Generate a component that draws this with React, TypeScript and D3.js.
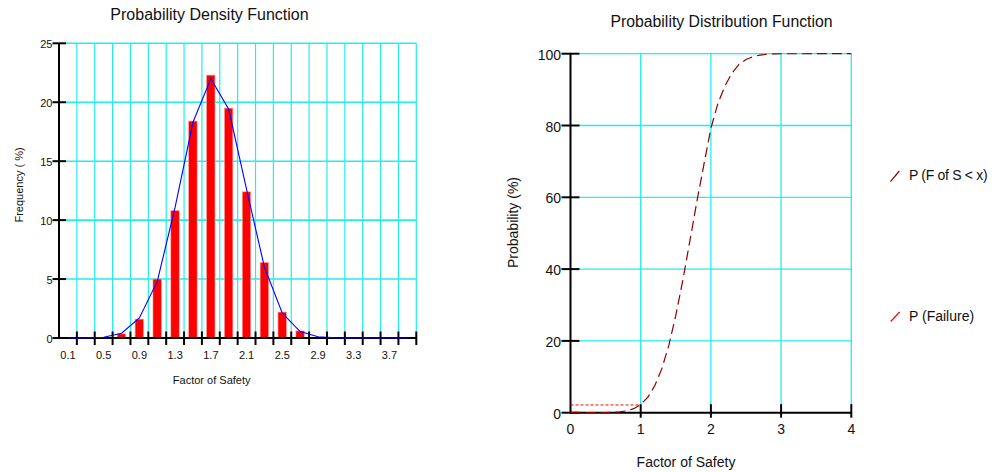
import React from "react";
import * as d3 from "d3";

// ---------- Data ----------
// Left: Probability Density Function (bins of width 0.2, centers 0.1 .. 3.9)
const binCenters = [0.1, 0.3, 0.5, 0.7, 0.9, 1.1, 1.3, 1.5, 1.7, 1.9, 2.1, 2.3, 2.5, 2.7, 2.9, 3.1, 3.3, 3.5, 3.7, 3.9];
const barFreq = [0, 0, 0, 0.35, 1.6, 5.0, 10.8, 18.4, 22.3, 19.5, 12.4, 6.4, 2.2, 0.6, 0, 0, 0, 0, 0, 0];
const fitFreq = [0, 0, 0.07, 0.4, 1.7, 4.8, 11.1, 18.3, 22.0, 19.4, 12.6, 6.0, 2.1, 0.55, 0.1, 0.01, 0, 0, 0, 0];
const pdfXTickLabels = ["0.1", "0.5", "0.9", "1.3", "1.7", "2.1", "2.5", "2.9", "3.3", "3.7"];
const pdfYTicks = [0, 5, 10, 15, 20, 25];

// Right: Probability Distribution Function
const cdfX = [0, 0.5, 0.6, 0.7, 0.8, 0.9, 1.0, 1.1, 1.2, 1.3, 1.4, 1.5, 1.6, 1.7, 1.8, 1.9, 2.0, 2.1, 2.2, 2.3, 2.4, 2.5, 2.6, 2.7, 2.8, 2.9, 3.0, 3.5, 4.0];
const cdfP = [0, 0.04, 0.09, 0.23, 0.53, 1.13, 2.28, 4.27, 7.49, 12.2, 18.7, 27.1, 36.9, 47.8, 58.8, 69.1, 79.2, 86.2, 91.0, 94.6, 97.0, 98.4, 99.2, 99.6, 99.85, 99.95, 99.98, 100, 100];
const pFailure = 2.15;
const failureFS = 1;
const cdfXTicks = [0, 1, 2, 3, 4];
const cdfYTicks = [0, 20, 40, 60, 80, 100];
const legendLabels = ["P (F of S < x)", "P (Failure)"];

const FONT = "'Liberation Sans', Arial, Helvetica, sans-serif";
const GRID = "#22eeee";

export default function App() {
  // Left scales
  const xL = d3.scaleLinear().domain([0, 4]).range([59, 416.3]);
  const yL = d3.scaleLinear().domain([0, 25]).range([338, 43.3]);
  const binW = xL(0.2) - xL(0);
  const gridXL = d3.range(1, 21).map((i) => i * 0.2);

  const fitLine = d3
    .line<number>()
    .x((_, i) => xL(binCenters[i]))
    .y((d) => yL(d))(fitFreq) as string;

  // Right scales
  const xR = d3.scaleLinear().domain([0, 4]).range([570.5, 851.3]);
  const yR = d3.scaleLinear().domain([0, 100]).range([412.7, 53.7]);
  const cdfLine = d3
    .line<number>()
    .x((_, i) => xR(cdfX[i]))
    .y((d) => yR(d))(cdfP) as string;

  return (
    <svg
      width={994}
      height={472}
      style={{ position: "absolute", left: 0, top: 0, background: "#fff" }}
      fontFamily={FONT}
    >
      {/* ---------- Left chart ---------- */}
      <text x={209.5} y={20} fontSize={16} textAnchor="middle" fill="#111">
        Probability Density Function
      </text>
      {/* grid */}
      {pdfYTicks.filter((t) => t > 0).map((t) => (
        <line key={"lh" + t} x1={xL(0) + 7} x2={xL(4)} y1={yL(t)} y2={yL(t)} stroke={GRID} strokeWidth={1.6} />
      ))}
      {gridXL.map((g, i) => (
        <line key={"lv" + i} x1={xL(g)} x2={xL(g)} y1={yL(25)} y2={yL(0) - 6} stroke={GRID} strokeWidth={1.2} />
      ))}
      {/* bars */}
      {barFreq.map((v, i) =>
        v > 0 ? (
          <rect
            key={"b" + i}
            x={xL(binCenters[i]) - binW * 0.24}
            y={yL(v)}
            width={binW * 0.47}
            height={yL(0) - yL(v)}
            fill="#ff0000"
            stroke="#ff9a9a"
            strokeWidth={0.6}
          />
        ) : null
      )}
      {/* axes */}
      <line x1={xL(0)} x2={xL(0)} y1={yL(25)} y2={yL(0) + 1} stroke="#000" strokeWidth={2} />
      <line x1={xL(0)} x2={xL(4)} y1={yL(0)} y2={yL(0)} stroke="#000" strokeWidth={2} />
      {pdfYTicks.map((t) => (
        <g key={"lyt" + t}>
          <line x1={xL(0) - 6.5} x2={xL(0) + 7} y1={yL(t)} y2={yL(t)} stroke="#000" strokeWidth={2} />
          <text x={52.5} y={yL(t) + 5} fontSize={11} textAnchor="end" fill="#111">
            {t}
          </text>
        </g>
      ))}
      {gridXL.map((g, i) => (
        <line key={"lxt" + i} x1={xL(g)} x2={xL(g)} y1={yL(0) - 6.5} y2={yL(0) + 7} stroke="#000" strokeWidth={2} />
      ))}
      {pdfXTickLabels.map((l) => (
        <text key={"lxl" + l} x={xL(parseFloat(l))} y={359} fontSize={11} textAnchor="middle" fill="#111">
          {l}
        </text>
      ))}
      {/* fitted line */}
      <path d={fitLine} fill="none" stroke="#0000ff" strokeWidth={1.1} />
      <text x={211.7} y={383.5} fontSize={11} textAnchor="middle" fill="#111">
        Factor of Safety
      </text>
      <text transform="translate(23,185) rotate(-90)" fontSize={11} textAnchor="middle" fill="#111">
        Frequency ( %)
      </text>

      {/* ---------- Right chart ---------- */}
      <text x={721.5} y={26.5} fontSize={15.8} textAnchor="middle" fill="#111">
        Probability Distribution Function
      </text>
      {cdfYTicks.filter((t) => t > 0).map((t) => (
        <line key={"rh" + t} x1={xR(0) + 9} x2={xR(4)} y1={yR(t)} y2={yR(t)} stroke={GRID} strokeWidth={1.3} />
      ))}
      {cdfXTicks.filter((t) => t > 0).map((t) => (
        <line key={"rv" + t} x1={xR(t)} x2={xR(t)} y1={yR(100)} y2={yR(0) - 8} stroke={GRID} strokeWidth={1.3} />
      ))}
      <line x1={xR(0)} x2={xR(0)} y1={yR(100)} y2={yR(0) + 1} stroke="#000" strokeWidth={2} />
      <line x1={xR(0)} x2={xR(4)} y1={yR(0)} y2={yR(0)} stroke="#000" strokeWidth={2} />
      {cdfYTicks.map((t) => (
        <g key={"ryt" + t}>
          <line x1={xR(0) - 9} x2={xR(0) + 9} y1={yR(t)} y2={yR(t)} stroke="#000" strokeWidth={2} />
          <text x={561} y={yR(t) + 6} fontSize={14} textAnchor="end" fill="#111">
            {t}
          </text>
        </g>
      ))}
      {cdfXTicks.filter((t) => t > 0).map((t) => (
        <line key={"rxt" + t} x1={xR(t)} x2={xR(t)} y1={yR(0) - 8.5} y2={yR(0) + 5} stroke="#000" strokeWidth={2} />
      ))}
      {cdfXTicks.map((t) => (
        <text key={"rxl" + t} x={xR(t)} y={434.3} fontSize={14} textAnchor="middle" fill="#111">
          {t}
        </text>
      ))}
      {/* failure line */}
      <line
        x1={xR(0)}
        x2={xR(failureFS)}
        y1={yR(pFailure)}
        y2={yR(pFailure)}
        stroke="#ff0000"
        strokeWidth={1}
        strokeDasharray="3,2"
      />
      {/* CDF */}
      <path d={cdfLine} fill="none" stroke="#8b0000" strokeWidth={1.2} strokeDasharray="10,5" />
      <text x={686} y={466.7} fontSize={14} textAnchor="middle" fill="#111">
        Factor of Safety
      </text>
      <text transform="translate(518,222.5) rotate(-90)" fontSize={14} textAnchor="middle" fill="#111">
        Probability (%)
      </text>

      {/* legend */}
      <line x1={890.5} y1={181.7} x2={899.3} y2={171} stroke="#8b0000" strokeWidth={1.2} />
      <text x={909} y={180} fontSize={14} fill="#111" letterSpacing={-0.3}>
        {legendLabels[0]}
      </text>
      <line x1={890.7} y1={321.5} x2={899.7} y2={312} stroke="#ff0000" strokeWidth={1.2} />
      <text x={909} y={320.5} fontSize={14} fill="#111">
        {legendLabels[1]}
      </text>
    </svg>
  );
}
